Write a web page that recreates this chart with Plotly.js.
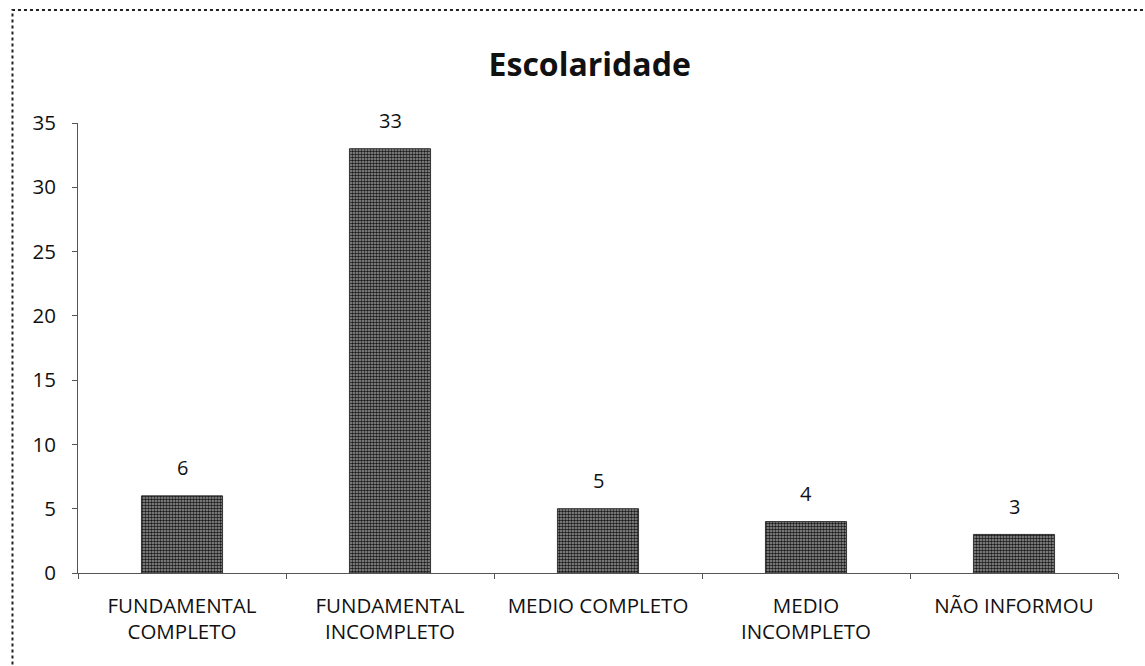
<!DOCTYPE html>
<html>
<head>
<meta charset="utf-8">
<script src="https://cdn.plot.ly/plotly-3.0.1.min.js"></script>
<style>html,body{margin:0;padding:0;background:#fff;}#chart{width:1145px;height:666px;}</style>
</head>
<body>
<div id="chart"></div>
<script>
const categories = ["FUNDAMENTAL<br>COMPLETO", "FUNDAMENTAL<br>INCOMPLETO", "MEDIO COMPLETO", "MEDIO<br>INCOMPLETO", "NÃO INFORMOU"];
const values = [6, 33, 5, 4, 3];
const yTicks = [0, 5, 10, 15, 20, 25, 30, 35];

const fontFam = "Open Sans, Noto Sans, sans-serif";

const trace = {
  type: "bar",
  x: categories,
  y: values,
  width: 0.39,
  marker: {
    color: "#7a7a7a",
    line: {color: "#333", width: 1},
    pattern: {shape: ".", fgcolor: "#1a1a1a", bgcolor: "#9a9a9a", size: 3, solidity: 0.55}
  },
  hoverinfo: "none"
};

const annotations = values.map((v, i) => ({
  x: categories[i], y: v, xref: "x", yref: "y",
  text: String(v), showarrow: false, yshift: 28,
  font: {family: fontFam, size: 20, color: "#111"}
}));

const layout = {
  width: 1145, height: 666,
  margin: {l: 78, r: 27, t: 123, b: 93},
  paper_bgcolor: "#fff", plot_bgcolor: "#fff",
  showlegend: false,
  title: {text: "<b>Escolaridade</b>", x: 0.515, xanchor: "center", y: 0.902, yanchor: "middle",
          font: {family: fontFam, size: 32, color: "#111"}},
  xaxis: {
    type: "category",
    tickson: "boundaries",
    ticks: "outside", ticklen: 5, tickcolor: "#555",
    showline: true, linecolor: "#555", linewidth: 1,
    showgrid: false, zeroline: false,
    tickfont: {family: fontFam, size: 20.5, color: "#111"},
    ticklabelstandoff: 14,
    range: [-0.5, 4.5]
  },
  yaxis: {
    range: [0, 35],
    tickvals: yTicks,
    ticks: "outside", ticklen: 5, tickcolor: "#555",
    showline: true, linecolor: "#555", linewidth: 1,
    showgrid: false, zeroline: false,
    tickfont: {family: fontFam, size: 20.5, color: "#111"},
    ticklabelstandoff: 12
  },
  annotations: annotations,
  shapes: [{
    type: "rect", xref: "paper", yref: "paper",
    x0: -0.063, x1: 1.05, y0: -0.25, y1: 1.251,
    line: {color: "#222", width: 2, dash: "dot"}, fillcolor: "rgba(0,0,0,0)", layer: "below"
  }]
};

Plotly.newPlot("chart", [trace], layout, {displayModeBar: false, staticPlot: true});
</script>
</body>
</html>
